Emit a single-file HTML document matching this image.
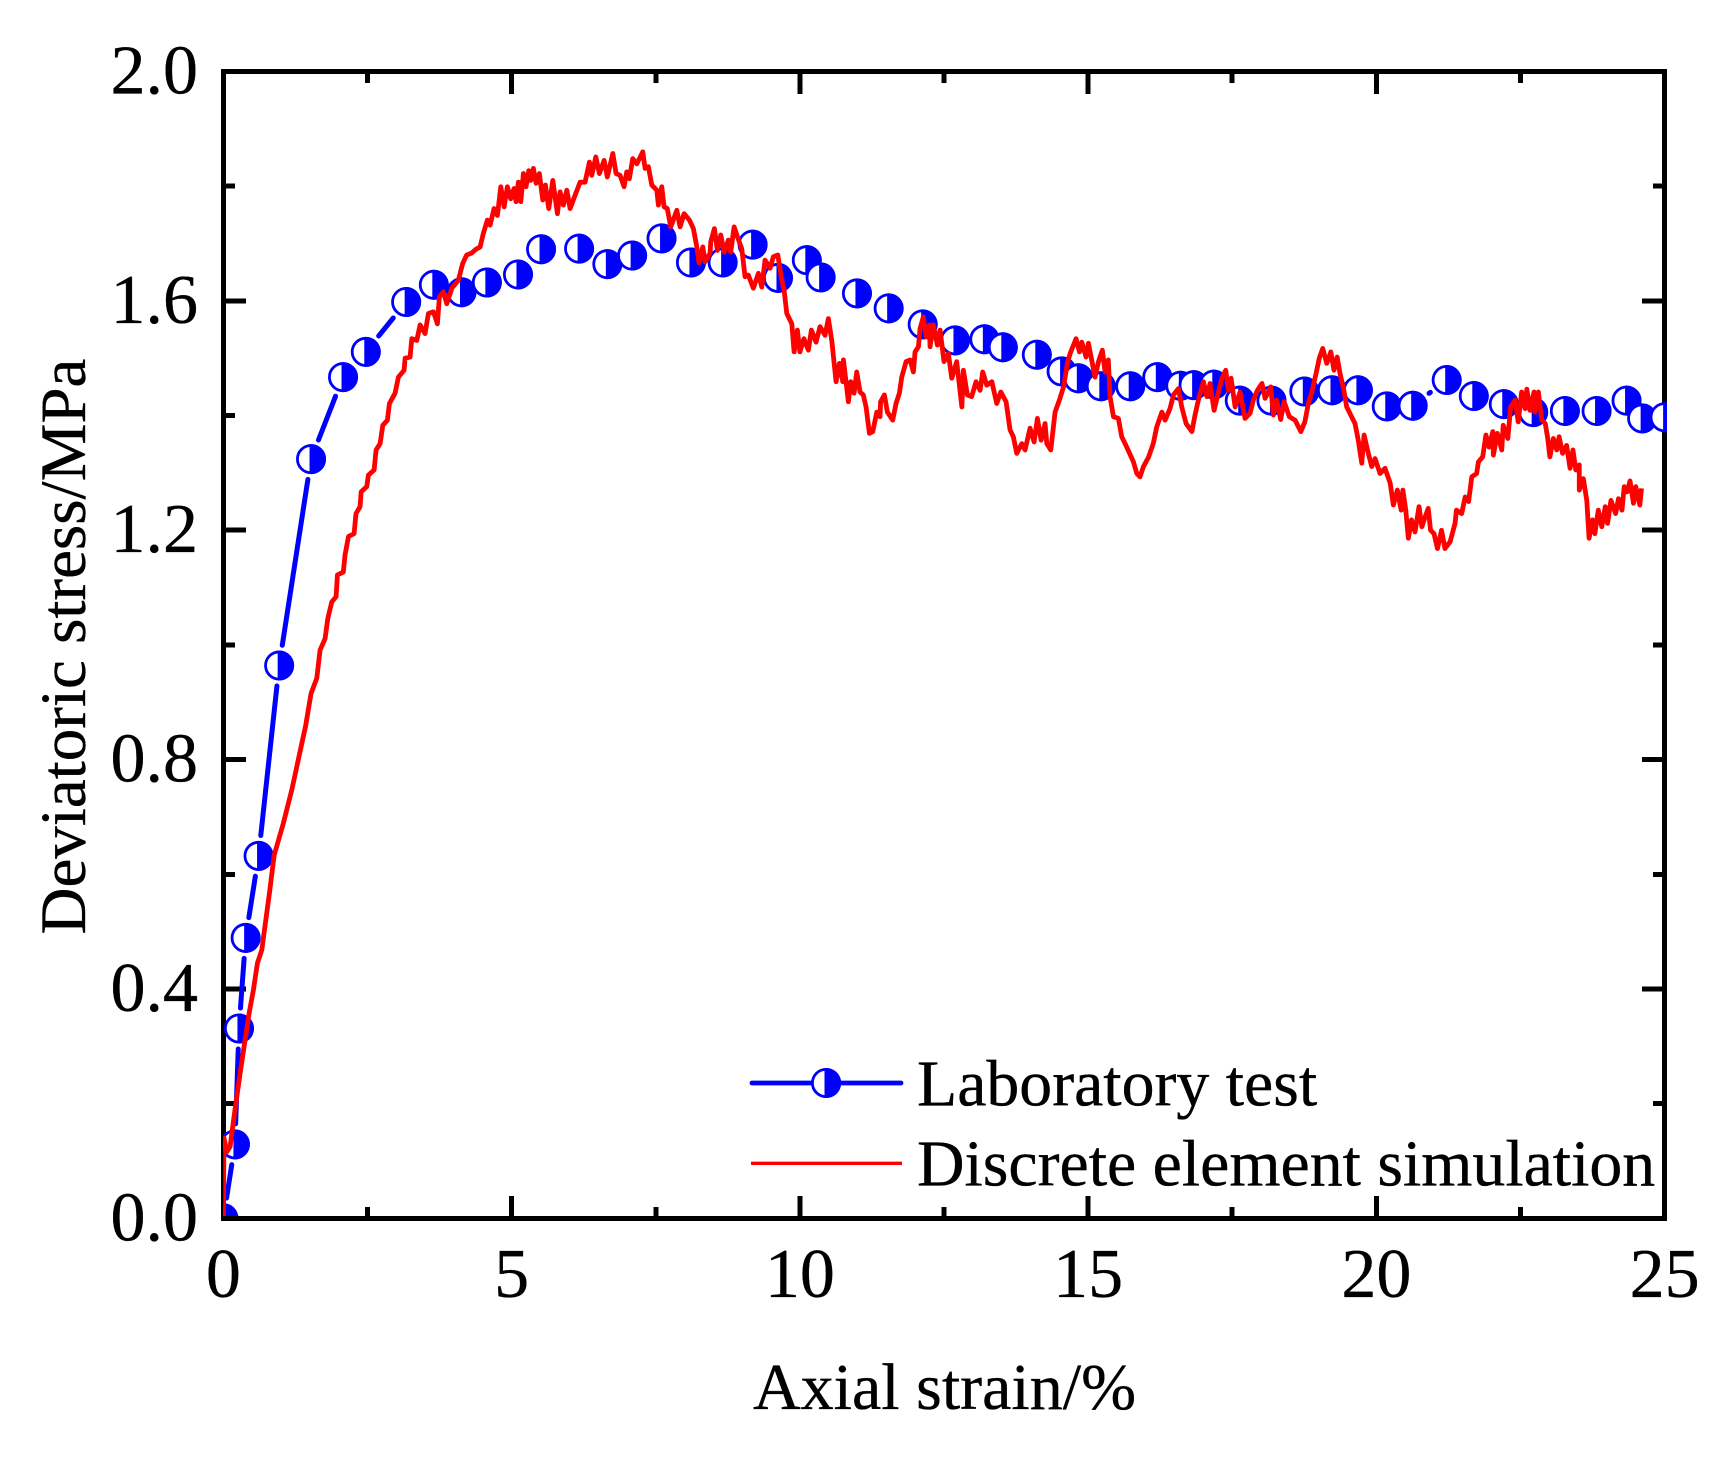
<!DOCTYPE html>
<html lang="en">
<head>
<meta charset="utf-8">
<title>Deviatoric stress vs axial strain</title>
<style>
html,body{margin:0;padding:0;background:#fff;width:1726px;height:1459px;overflow:hidden}
svg{display:block}
text{font-family:"Liberation Serif",serif;fill:#000;stroke:#000;stroke-width:0.35}
</style>
</head>
<body>
<svg id="chart" xmlns="http://www.w3.org/2000/svg" width="1726" height="1459" viewBox="0 0 1726 1459">
  <defs>
    <clipPath id="plot-clip"><rect x="223.3" y="71.5" width="1443.7" height="1144.5"></rect></clipPath>
  </defs>
  <rect x="0" y="0" width="1726" height="1459" fill="#fff"></rect>
  <rect x="223.4" y="71.5" width="1441.2" height="1146.8" fill="none" stroke="#000" stroke-width="5" shape-rendering="crispEdges"></rect>
  <g id="ticks"></g>
  <g id="tick-labels"></g>
  <g id="series" clip-path="url(#plot-clip)"></g>
  <text x="753" y="1409" font-size="66">Axial strain/%</text>
  <text transform="translate(85 934.5) rotate(-90)" x="0" y="0" font-size="65">Deviatoric stress/MPa</text>
  <g>
    <g>
      <line x1="752" y1="1083" x2="811" y2="1083" stroke="#0000ff" stroke-width="4.8" stroke-linecap="round"></line>
      <line x1="842" y1="1083" x2="901" y2="1083" stroke="#0000ff" stroke-width="4.8" stroke-linecap="round"></line>
      <circle cx="826" cy="1083" r="13.6" fill="#fff" stroke="#0000ff" stroke-width="2.8"></circle>
      <path d="M824.5 1068.1 A15 15 0 1 1 824.5 1097.9 Z" fill="#0000ff"></path>
      <text x="917" y="1105.5" font-size="65.8">Laboratory test</text>
    </g>
    <g>
      <line x1="751" y1="1163.3" x2="902" y2="1163.3" stroke="#ff0000" stroke-width="3.4"></line>
      <text x="917" y="1185.5" font-size="65.8">Discrete element simulation</text>
    </g>
  </g>
</svg>
<script>
const xMajorTicks = [0, 5, 10, 15, 20, 25];
const xMinorTicks = [2.5, 7.5, 12.5, 17.5, 22.5];
const xTickLabels = ['0', '5', '10', '15', '20', '25'];
const yMajorTicks = [0, 0.4, 0.8, 1.2, 1.6, 2.0];
const yMinorTicks = [0.2, 0.6, 1.0, 1.4, 1.8];
const yTickLabels = ['0.0', '0.4', '0.8', '1.2', '1.6', '2.0'];

const labStrain = [0, 0.2, 0.27, 0.386, 0.61, 0.967, 1.52, 2.075, 2.47, 3.17,
  3.65, 4.13, 4.57, 5.11, 5.51, 6.17, 6.66, 7.09, 7.6, 8.11,
  8.66, 9.18, 9.62, 10.12, 10.36, 10.99, 11.54, 12.13, 12.69, 13.2,
  13.52, 14.11, 14.54, 14.83, 15.22, 15.73, 16.2, 16.6, 16.83, 17.18,
  17.63, 18.18, 18.75, 19.23, 19.68, 20.18, 20.63, 21.22, 21.69, 22.21,
  22.72, 23.27, 23.82, 24.34, 24.61, 25.0];
const labStress = [0, 0.129, 0.331, 0.489, 0.632, 0.964, 1.324, 1.467, 1.511, 1.598,
  1.628, 1.615, 1.632, 1.646, 1.69, 1.691, 1.664, 1.679, 1.709, 1.667,
  1.667, 1.698, 1.64, 1.671, 1.641, 1.613, 1.587, 1.559, 1.531, 1.533,
  1.519, 1.506, 1.477, 1.465, 1.451, 1.451, 1.467, 1.452, 1.453, 1.454,
  1.426, 1.426, 1.442, 1.444, 1.444, 1.416, 1.417, 1.462, 1.434, 1.42,
  1.406, 1.408, 1.408, 1.426, 1.395, 1.397];

const simStrain = [
  0,0.01,0.06,0.116,0.2,0.29,0.376,0.45,0.52,0.59,
  0.666,0.805,0.88,1.04,1.186,1.377,1.425,1.52,1.62,1.677,
  1.764,1.811,1.88,1.955,1.978,2.08,2.11,2.17,2.267,2.30,
  2.37,2.39,2.487,2.515,2.614,2.649,2.718,2.765,2.845,2.88,
  2.978,3.036,3.134,3.152,3.238,3.268,3.355,3.412,3.498,3.556,
  3.643,3.712,3.747,3.816,3.875,3.962,4.076,4.15,4.22,4.30,
  4.38,4.453,4.51,4.58,4.626,4.695,4.753,4.812,4.869,4.926,
  4.985,5.042,5.077,5.117,5.159,5.204,5.25,5.297,5.332,5.377,
  5.424,5.481,5.54,5.586,5.644,5.714,5.794,5.84,5.898,5.957,
  6.014,6.10,6.187,6.274,6.349,6.39,6.46,6.522,6.604,6.66,
  6.755,6.812,6.881,6.95,6.997,7.042,7.10,7.171,7.275,7.315,
  7.372,7.431,7.518,7.546,7.604,7.644,7.70,7.76,7.865,7.922,
  7.991,8.083,8.153,8.212,8.251,8.316,8.355,8.442,8.454,8.517,
  8.569,8.628,8.685,8.76,8.80,8.859,8.916,8.992,9.049,9.106,
  9.193,9.28,9.339,9.396,9.483,9.54,9.617,9.686,9.726,9.773,
  9.86,9.90,9.957,10.0,10.07,10.147,10.2,10.28,10.35,10.437,
  10.494,10.553,10.628,10.686,10.744,10.755,10.842,10.882,10.94,10.986,
  11.044,11.10,11.148,11.206,11.264,11.334,11.39,11.40,11.466,11.518,
  11.61,11.668,11.726,11.767,11.842,11.912,11.969,11.998,12.056,12.085,
  12.142,12.19,12.246,12.258,12.316,12.385,12.432,12.50,12.576,12.635,
  12.72,12.81,12.836,12.905,12.98,13.056,13.126,13.172,13.242,13.33,
  13.415,13.485,13.577,13.646,13.703,13.762,13.849,13.906,13.993,14.063,
  14.12,14.185,14.253,14.283,14.352,14.427,14.502,14.574,14.64,14.687,
  14.79,14.85,14.89,14.964,15.005,15.12,15.18,15.247,15.294,15.35,
  15.38,15.44,15.525,15.583,15.67,15.787,15.844,15.90,15.96,16.05,
  16.13,16.19,16.28,16.335,16.42,16.48,16.566,16.624,16.70,16.80,
  16.855,16.912,17.0,17.06,17.115,17.185,17.242,17.32,17.387,17.433,
  17.48,17.55,17.636,17.722,17.81,17.866,17.936,18.016,18.07,18.168,
  18.214,18.27,18.34,18.40,18.49,18.59,18.69,18.76,18.82,18.88,
  18.954,19.01,19.07,19.14,19.21,19.265,19.32,19.37,19.43,19.486,
  19.57,19.63,19.686,19.747,19.787,19.86,19.92,19.977,20.064,20.15,
  20.24,20.295,20.364,20.43,20.46,20.51,20.555,20.61,20.67,20.74,
  20.79,20.845,20.90,20.94,21.0,21.06,21.13,21.19,21.28,21.365,
  21.39,21.48,21.54,21.6,21.655,21.74,21.77,21.845,21.90,21.955,
  22.02,22.03,22.1,22.175,22.2,22.28,22.33,22.406,22.46,22.52,
  22.58,22.61,22.665,22.735,22.75,22.81,22.87,22.93,22.97,23.01,
  23.07,23.13,23.17,23.23,23.30,23.36,23.41,23.46,23.52,23.52,
  23.59,23.65,23.69,23.75,23.79,23.85,23.91,23.97,24.01,24.07,
  24.15,24.2,24.26,24.30,24.35,24.40,24.46,24.50,24.57,24.60];
const simStress = [
  0,0.14,0.116,0.125,0.189,0.253,0.311,0.36,0.398,0.445,
  0.468,0.572,0.633,0.689,0.747,0.836,0.858,0.915,0.942,0.991,
  1.011,1.046,1.075,1.084,1.122,1.127,1.157,1.189,1.194,1.229,
  1.241,1.267,1.276,1.296,1.305,1.34,1.351,1.383,1.392,1.421,
  1.439,1.467,1.479,1.5,1.502,1.534,1.531,1.558,1.543,1.578,
  1.581,1.56,1.607,1.616,1.595,1.622,1.636,1.665,1.68,1.683,
  1.69,1.694,1.718,1.741,1.732,1.761,1.749,1.799,1.764,1.799,
  1.778,1.796,1.773,1.807,1.773,1.822,1.799,1.827,1.81,1.831,
  1.805,1.822,1.776,1.802,1.761,1.81,1.752,1.79,1.767,1.793,
  1.761,1.784,1.807,1.807,1.842,1.819,1.851,1.822,1.845,1.816,
  1.857,1.822,1.819,1.799,1.825,1.813,1.848,1.839,1.86,1.831,
  1.834,1.802,1.793,1.767,1.799,1.764,1.761,1.729,1.758,1.729,
  1.752,1.741,1.726,1.694,1.666,1.694,1.668,1.683,1.703,1.726,
  1.688,1.715,1.685,1.706,1.685,1.729,1.712,1.691,1.642,1.645,
  1.622,1.648,1.624,1.671,1.657,1.677,1.68,1.636,1.619,1.578,
  1.56,1.511,1.549,1.511,1.534,1.514,1.549,1.528,1.555,1.54,
  1.569,1.531,1.459,1.491,1.459,1.497,1.424,1.459,1.439,1.476,
  1.441,1.436,1.415,1.369,1.372,1.406,1.398,1.424,1.436,1.406,
  1.392,1.421,1.439,1.467,1.494,1.497,1.476,1.511,1.52,1.552,
  1.572,1.537,1.558,1.52,1.558,1.523,1.549,1.494,1.508,1.465,
  1.494,1.415,1.479,1.436,1.433,1.459,1.444,1.476,1.453,1.459,
  1.421,1.441,1.424,1.375,1.363,1.334,1.351,1.34,1.378,1.354,
  1.395,1.357,1.386,1.351,1.34,1.406,1.427,1.45,1.491,1.508,
  1.534,1.511,1.528,1.502,1.526,1.467,1.494,1.514,1.476,1.497,
  1.433,1.398,1.395,1.363,1.345,1.319,1.299,1.293,1.311,1.328,
  1.351,1.38,1.406,1.392,1.412,1.436,1.447,1.415,1.386,1.372,
  1.401,1.427,1.459,1.433,1.456,1.409,1.433,1.465,1.479,1.444,
  1.465,1.415,1.441,1.395,1.404,1.427,1.444,1.456,1.43,1.45,
  1.401,1.427,1.393,1.424,1.398,1.392,1.372,1.389,1.421,1.441,
  1.473,1.5,1.517,1.491,1.511,1.479,1.502,1.473,1.447,1.415,
  1.398,1.386,1.357,1.317,1.366,1.334,1.311,1.325,1.299,1.308,
  1.282,1.244,1.27,1.235,1.27,1.235,1.186,1.218,1.197,1.241,
  1.206,1.223,1.238,1.20,1.194,1.168,1.20,1.168,1.18,1.212,
  1.235,1.229,1.258,1.25,1.293,1.299,1.319,1.328,1.366,1.345,
  1.372,1.331,1.369,1.34,1.383,1.36,1.415,1.427,1.389,1.441,
  1.412,1.446,1.409,1.441,1.406,1.441,1.392,1.386,1.362,1.328,
  1.36,1.34,1.363,1.334,1.348,1.308,1.34,1.305,1.314,1.27,
  1.29,1.252,1.186,1.218,1.194,1.235,1.206,1.241,1.212,1.252,
  1.229,1.255,1.235,1.276,1.267,1.286,1.247,1.276,1.244,1.273];

const SVG_NS = 'http://www.w3.org/2000/svg';
const plotLeft = 223.4, plotRight = 1664.6, plotTop = 71.5, plotBottom = 1218.3;
const xMax = 25, yMax = 2;
const markerRadius = 15, lineGap = 20.5;

function xScale(v) { return plotLeft + (plotRight - plotLeft) * v / xMax; }
function yScale(v) { return plotBottom - (plotBottom - plotTop) * v / yMax; }
function make(tag, attrs, parent) {
  const el = document.createElementNS(SVG_NS, tag);
  for (const k in attrs) el.setAttribute(k, attrs[k]);
  parent.appendChild(el);
  return el;
}

const tickGroup = document.getElementById('ticks');
const labelGroup = document.getElementById('tick-labels');
const seriesGroup = document.getElementById('series');
const tickStyle = { stroke: '#000', 'stroke-width': 5, 'shape-rendering': 'crispEdges' };

function drawXTick(v, len) {
  [[plotBottom, plotBottom - len], [plotTop, plotTop + len]].forEach(function (pair) {
    const t = make('line', Object.assign({ x1: xScale(v), x2: xScale(v), y1: pair[0], y2: pair[1] }, tickStyle), tickGroup);
    
    
  });
}
function drawYTick(v, len) {
  [[plotLeft, plotLeft + len], [plotRight, plotRight - len]].forEach(function (pair) {
    const t = make('line', Object.assign({ y1: yScale(v), y2: yScale(v), x1: pair[0], x2: pair[1] }, tickStyle), tickGroup);
    
    
  });
}
xMajorTicks.forEach(function (v) { drawXTick(v, 22.5); });
xMinorTicks.forEach(function (v) { drawXTick(v, 11.5); });
yMajorTicks.forEach(function (v) { drawYTick(v, 22.5); });
yMinorTicks.forEach(function (v) { drawYTick(v, 11.5); });

xMajorTicks.forEach(function (v, i) {
  const t = make('text', { x: xScale(v), y: 1297, 'font-size': 70, 'text-anchor': 'middle' }, labelGroup);
  t.textContent = xTickLabels[i];
  
  
});
yMajorTicks.forEach(function (v, i) {
  const t = make('text', { x: 198, y: yScale(v) + 22, 'font-size': 70, 'text-anchor': 'end' }, labelGroup);
  t.textContent = yTickLabels[i];
  
  
});

// Laboratory test: line segments broken around each marker
const labLine = make('g', {}, seriesGroup);


for (let i = 0; i < labStrain.length - 1; i++) {
  const x1 = xScale(labStrain[i]), y1 = yScale(labStress[i]);
  const x2 = xScale(labStrain[i + 1]), y2 = yScale(labStress[i + 1]);
  const d = Math.hypot(x2 - x1, y2 - y1);
  if (d <= 2 * lineGap) continue;
  const ux = (x2 - x1) / d, uy = (y2 - y1) / d;
  const seg = make('line', {
    x1: x1 + ux * lineGap, y1: y1 + uy * lineGap,
    x2: x2 - ux * lineGap, y2: y2 - uy * lineGap,
    stroke: '#0000ff', 'stroke-width': 5, 'stroke-linecap': 'round'
  }, labLine);
  
  
}

// Laboratory test: half-filled circle markers
labStrain.forEach(function (v, i) {
  const cx = xScale(v), cy = yScale(labStress[i]);
  const g = make('g', {}, seriesGroup);
  
  
  make('circle', { cx: cx, cy: cy, r: markerRadius - 1.4, fill: '#fff', stroke: '#0000ff', 'stroke-width': 2.8 }, g);
  const off = 1.5;
  const h = Math.sqrt(markerRadius * markerRadius - off * off);
  make('path', {
    d: 'M' + (cx - off) + ' ' + (cy - h) + ' A' + markerRadius + ' ' + markerRadius + ' 0 1 1 ' + (cx - off) + ' ' + (cy + h) + ' Z',
    fill: '#0000ff'
  }, g);
});

// Discrete element simulation curve
const simPoints = simStrain.map(function (v, i) { return xScale(v) + ',' + yScale(simStress[i]); }).join(' ');
const simLine = make('polyline', {
  points: simPoints, fill: 'none', stroke: '#ff0000', 'stroke-width': 4.8, 'stroke-linejoin': 'round'
}, seriesGroup);


</script>
</body>
</html>
